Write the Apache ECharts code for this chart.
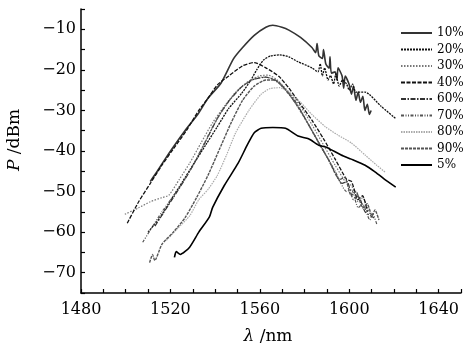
<!DOCTYPE html>
<html><head><meta charset="utf-8">
<script src="https://cdn.jsdelivr.net/npm/echarts@6/dist/echarts.min.js"></script>
<style>html,body{margin:0;padding:0;background:#fff}#c{width:464px;height:350px}</style>
</head><body><div id="c"></div>
<script>
// legend names (pump ratio)
const names = ['10%','20%','30%','40%','60%','70%','80%','90%','5%'];
// [wavelength nm, power dBm]
const s10 = [[1511,-47.5],[1514.1,-45],[1518.2,-41.5],[1521.3,-39],[1526.5,-35],[1532.2,-31],[1536.8,-27],[1542.6,-23.3],[1548.2,-17.3],[1552.3,-14.5],[1557.5,-11.5],[1562.7,-9.5],[1565.8,-9],[1569.9,-9.5],[1573,-10.2],[1578.2,-12],[1583.3,-14.5],[1585,-15.8],[1585.6,-13.5],[1586.4,-16.5],[1588,-17.2],[1588.5,-15],[1589.5,-18.5],[1591,-19.6],[1591.4,-16.8],[1592,-20.8],[1593.7,-20.5],[1594.5,-22.5],[1595,-19.5],[1596.8,-21.5],[1597.5,-24.5],[1598.2,-21.5],[1599.9,-23.5],[1601,-26],[1601.9,-24],[1603,-27.5],[1604,-25.5],[1605,-28],[1606.1,-26.5],[1607,-30],[1608.1,-28.5],[1609,-31],[1609.8,-30]];
const s20 = [[1510,-60],[1515.2,-56.5],[1520.3,-52],[1525.5,-47.5],[1530.6,-43],[1535.8,-38.5],[1541,-34],[1546.1,-29.5],[1552,-25.7],[1556,-22.5],[1558.6,-20],[1561.6,-17.6],[1564.7,-16.6],[1568.9,-16.3],[1573,-16.8],[1577.1,-18],[1583.3,-19.5],[1586,-20.5],[1587,-18.5],[1588,-21.5],[1589,-19.5],[1590.5,-22.5],[1591.6,-21.4],[1593,-23.5],[1594,-21],[1595.5,-24],[1597,-22.5],[1598.8,-23.5],[1600,-25],[1601.5,-23.5],[1603,-25.5],[1607.1,-25.5],[1614.3,-29],[1620.8,-32]];
const s30 = [[1499.6,-55.6],[1505.8,-54],[1511,-52.5],[1516.2,-51.5],[1519.3,-50.9],[1524,-47],[1528.6,-43],[1533.7,-38],[1538.9,-33],[1544.1,-29],[1549.2,-25.5],[1554.4,-23],[1559.6,-21.5],[1563.7,-21.3],[1567.8,-22.5],[1573,-25.5],[1578.2,-29],[1583.3,-33.5],[1588.5,-38.5],[1593.7,-43.5],[1598.8,-48],[1601,-48.5],[1604,-52.5],[1606,-51.5],[1609.2,-55.5]];
const s40 = [[1500.7,-57.8],[1505.8,-52.5],[1511,-48],[1516.2,-43.5],[1521.3,-39.5],[1527.1,-35],[1532.7,-30],[1536.8,-27],[1541,-23.7],[1546.1,-21.5],[1552.3,-19],[1557.5,-18.2],[1562.7,-19.5],[1568.5,-21.6],[1573,-24.5],[1578.2,-28.5],[1583.3,-32.4],[1588.5,-37],[1593.7,-42],[1598.8,-47],[1601,-47.5],[1604,-52],[1606,-51],[1608.1,-55]];
const s60 = [[1513.1,-58.5],[1517.2,-55],[1521.3,-51.5],[1526.5,-47],[1531.7,-42],[1536.8,-36.5],[1542,-31],[1547.2,-27],[1552.3,-24],[1557.5,-22.3],[1562.7,-21.8],[1566.8,-22.5],[1570.9,-24.5],[1576.1,-28],[1581.3,-33],[1586.4,-38],[1591.6,-43],[1596.8,-48],[1599,-47.5],[1601.9,-52],[1604,-51],[1607.1,-55],[1611.2,-56.5]];
const s70 = [[1507.6,-62.5],[1511,-59.5],[1516.2,-55],[1524,-49],[1529.6,-44],[1534.8,-38.5],[1539.9,-33],[1545.1,-28.5],[1550.3,-25],[1555.4,-22.8],[1560.6,-21.8],[1564.7,-22],[1568.9,-23.5],[1573,-26],[1578.2,-30],[1583.3,-35],[1588.5,-40],[1593.7,-45],[1598.8,-50],[1601,-49.5],[1604,-54],[1606,-53],[1609.2,-57],[1610.5,-55.5],[1612.3,-58]];
const s80 = [[1518.2,-62],[1523.4,-59],[1528.6,-56],[1532.7,-52],[1536.8,-49.5],[1541,-46],[1545.1,-41],[1549.2,-35.5],[1555.1,-30],[1560.6,-26],[1564.7,-24.6],[1568.9,-24.4],[1573,-25.5],[1578.2,-28],[1583.3,-31],[1589.3,-34],[1594.7,-36],[1600.9,-38],[1607.1,-41],[1612.3,-43.5],[1616,-45.2]];
const s90 = [[1510.7,-67.5],[1512,-65.5],[1513,-67],[1516.2,-63],[1521.3,-60],[1526.5,-56.5],[1531.7,-51.5],[1536.8,-46],[1542,-39.5],[1547.2,-33],[1552.3,-27.5],[1557.5,-24],[1562.7,-22.5],[1566.8,-22.5],[1570.9,-24.5],[1575.1,-27.5],[1580.2,-32],[1585.4,-37],[1590.6,-42],[1595.7,-47],[1598,-46.5],[1600.9,-51],[1603,-50],[1606.1,-54],[1608,-53],[1610.2,-56],[1611.5,-54.5],[1613.3,-57]];
const s5 = [[1521.8,-66.2],[1522.6,-64.8],[1524.4,-65.5],[1528.6,-63.7],[1532.7,-60],[1537.4,-56.3],[1538.9,-53.9],[1544.1,-48.5],[1550.3,-43],[1554.4,-38.5],[1557.5,-35.5],[1560.6,-34.4],[1565.8,-34.2],[1571.5,-34.4],[1577.1,-36.3],[1581.8,-37],[1586.4,-38.6],[1589.5,-39],[1596.4,-41],[1600.9,-42],[1607.1,-43.5],[1611.2,-45],[1615.4,-46.8],[1620.8,-48.9]];
const xTickLabels = [1480,1520,1560,1600,1640];
const yTickLabels = [-70,-60,-50,-40,-30,-20,-10];

const data = [s10,s20,s30,s40,s60,s70,s80,s90,s5];
const styles = [
  {color:'#333', width:1.6, type:'solid'},
  {color:'#111', width:1.3, type:[2,1]},
  {color:'#777', width:1.2, type:[1.5,1.5]},
  {color:'#111', width:1.3, type:[4,1.5]},
  {color:'#333', width:1.2, type:[5,1.5,1.5,1.5]},
  {color:'#555', width:1.2, type:[3,1.5,1,1.5,1,1.5]},
  {color:'#aaa', width:1.2, type:[1.5,1]},
  {color:'#555', width:1.4, type:[3,1]},
  {color:'#000', width:1.6, type:'solid'}
];
const FONT = 'DejaVu Serif';
const chart = echarts.init(document.getElementById('c'), null, {renderer:'canvas'});
chart.setOption({
  animation:false,
  backgroundColor:'#fff',
  grid:{left:81, right:0, top:9, bottom:57},
  legend:{
    orient:'vertical', left:400, top:26, padding:0, itemWidth:31, itemHeight:10, itemGap:2.5,
    itemStyle:{opacity:0},
    data:names, textStyle:{fontFamily:FONT, fontSize:12, color:'#000', lineHeight:14}
  },
  xAxis:{
    type:'value', min:1480, max:1650, interval:10,
    axisLine:{onZero:false, lineStyle:{color:'#000', width:1.5}},
    axisTick:{inside:true, length:4, lineStyle:{color:'#000', width:1.2}},
    splitLine:{show:false},
    axisLabel:{margin:9, fontFamily:FONT, fontSize:16, color:'#000',
      formatter:v => xTickLabels.includes(v) ? String(v) : ''}
  },
  yAxis:{
    type:'value', min:-75, max:-5, interval:5,
    axisLine:{show:true, onZero:false, lineStyle:{color:'#000', width:1.5}},
    axisTick:{show:true, inside:true, length:4, lineStyle:{color:'#000', width:1.2}},
    splitLine:{show:false},
    axisLabel:{margin:5, fontFamily:FONT, fontSize:16, color:'#000',
      formatter:v => yTickLabels.includes(v) ? String(v).replace('-', '\u2212') : ''}
  },
  graphic:[
    {type:'text', x:15, y:140, rotation:Math.PI/2,
     style:{text:'{i|P} /dBm', fill:'#000', font:'17px "DejaVu Serif"', align:'center', verticalAlign:'middle',
       rich:{i:{fontStyle:'italic', fontFamily:FONT, fontSize:17}}}},
    {type:'text', x:268, y:337,
     style:{text:'{i|λ} /nm', fill:'#000', font:'17px "DejaVu Serif"', align:'center', verticalAlign:'middle',
       rich:{i:{fontStyle:'italic', fontFamily:FONT, fontSize:17}}}}
  ],
  series: names.map((n,i) => ({
    name:n, type:'line', data:data[i], showSymbol:false, symbol:'none', smooth:0.2,
    lineStyle:styles[i], itemStyle:{color:styles[i].color}, z: i===8 ? 3 : 2
  }))
});
</script></body></html>
